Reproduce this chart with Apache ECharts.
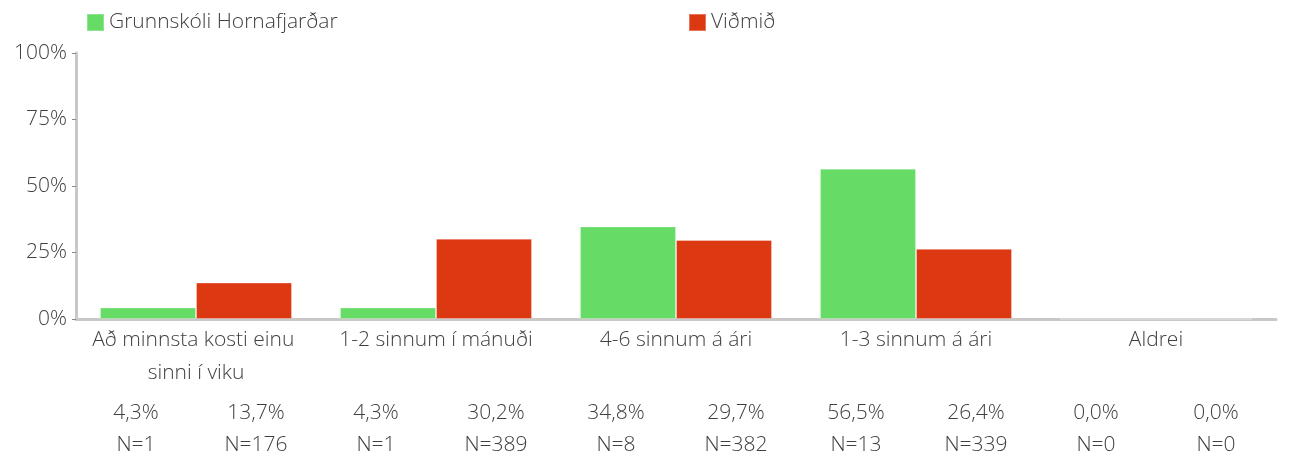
<!DOCTYPE html>
<html>
<head>
<meta charset="utf-8">
<script src="https://cdn.jsdelivr.net/npm/echarts@6/dist/echarts.min.js"></script>
<style>
  html, body { margin: 0; padding: 0; background: #ffffff; }
  #chart { width: 1304px; height: 461px; }
</style>
</head>
<body>
<div id="chart"></div>
<script>
// Tíðni eftir flokkum: skólinn borinn saman við viðmið
const categories = ['Að minnsta kosti einu sinni í viku', '1-2 sinnum í mánuði', '4-6 sinnum á ári', '1-3 sinnum á ári', 'Aldrei'];
const seriesNames = ['Grunnskóli Hornafjarðar', 'Viðmið'];
const schoolValues = [4.3, 4.3, 34.8, 56.5, 0.0];
const benchmarkValues = [13.7, 30.2, 29.7, 26.4, 0.0];
const schoolCounts = [1, 1, 8, 13, 0];
const benchmarkCounts = [176, 389, 382, 339, 0];
const yTicks = [0, 25, 50, 75, 100];

const FONT = '"Open Sans", sans-serif';
const TEXT = '#404040';
const AXIS = '#c8c8c8';
const FS = 21;
const FW = 300;

// Neðsta röðin: hlutfall og fjöldi fyrir hvern dálk (skóli, viðmið) í hverjum flokki
const summaryLabels = [];
categories.forEach((c, i) => {
  summaryLabels.push(schoolValues[i].toFixed(1).replace('.', ',') + '%\nN=' + schoolCounts[i]);
  summaryLabels.push(benchmarkValues[i].toFixed(1).replace('.', ',') + '%\nN=' + benchmarkCounts[i]);
});

const legendBase = {
  top: 12, padding: 0, itemWidth: 17, itemHeight: 17, itemGap: 10, icon: 'rect',
  textStyle: { fontFamily: FONT, fontSize: FS, fontWeight: FW, color: TEXT }
};

const chart = echarts.init(document.getElementById('chart'), null, { renderer: 'canvas' });
chart.setOption({
  animation: false,
  textStyle: { fontFamily: FONT, color: TEXT },
  legend: [
    Object.assign({ data: [seriesNames[0]], left: 86 }, legendBase),
    Object.assign({ data: [seriesNames[1]], left: 688 }, legendBase)
  ],
  grid: { left: 76, right: 28, top: 53, bottom: 141.5, containLabel: false },
  xAxis: [
    {
      type: 'category',
      data: categories,
      axisLine: { show: true, lineStyle: { color: AXIS, width: 3 } },
      axisTick: { show: false },
      axisLabel: {
        interval: 0, margin: 5, fontFamily: FONT, fontSize: FS, fontWeight: FW, color: TEXT,
        lineHeight: 33, width: 240, overflow: 'break'
      }
    },
    {
      type: 'category',
      position: 'bottom',
      offset: 70,
      data: summaryLabels,
      axisLine: { show: false },
      axisTick: { show: false },
      axisLabel: {
        interval: 0, margin: 8, fontFamily: FONT, fontSize: FS, fontWeight: FW, color: TEXT, lineHeight: 32
      }
    }
  ],
  yAxis: {
    type: 'value',
    min: 0, max: 100, interval: 25,
    axisLine: { show: true, lineStyle: { color: AXIS, width: 3 } },
    axisTick: { show: true, length: 4, lineStyle: { color: '#888888', width: 1 } },
    splitLine: { show: false },
    axisLabel: {
      margin: 9, fontFamily: FONT, fontSize: FS, fontWeight: FW, color: TEXT,
      formatter: v => yTicks.includes(v) ? v + '%' : ''
    }
  },
  series: [
    {
      name: seriesNames[0], type: 'bar', xAxisIndex: 0, data: schoolValues,
      barWidth: 96, barGap: '0%',
      itemStyle: { color: '#66db66', borderColor: 'rgba(255,255,255,0.25)', borderWidth: 1 }
    },
    {
      name: seriesNames[1], type: 'bar', xAxisIndex: 0, data: benchmarkValues,
      barWidth: 96, barGap: '0%',
      itemStyle: { color: '#dc3913', borderColor: 'rgba(255,255,255,0.3)', borderWidth: 1 }
    }
  ]
});
</script>
</body>
</html>
